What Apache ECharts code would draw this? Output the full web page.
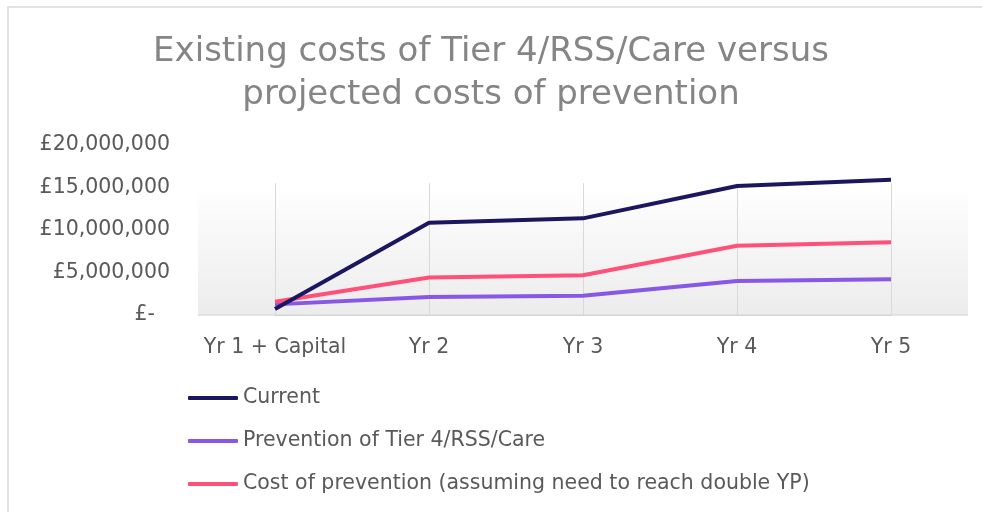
<!DOCTYPE html>
<html><head><meta charset="utf-8">
<script src="https://cdn.jsdelivr.net/npm/echarts@6/dist/echarts.min.js"></script>
<style>html,body{margin:0;padding:0;background:#fff;}#c{width:982px;height:512px;}</style>
</head><body><div id="c"></div>
<script>
const categories = ['Yr 1 + Capital', 'Yr 2', 'Yr 3', 'Yr 4', 'Yr 5'];
const current = [700000, 10860000, 11370000, 15180000, 15900000];
const prevention = [1250000, 2120000, 2270000, 4000000, 4200000];
const costOfPrevention = [1570000, 4400000, 4670000, 8150000, 8550000];
const seriesNames = ['Current', 'Prevention of Tier 4/RSS/Care', 'Cost of prevention (assuming need to reach double YP)'];
const yTicks = [0, 5000000, 10000000, 15000000, 20000000];
const wallTop = 15500000;

const colors = ['#1b1660', '#8857e6', '#ff5079'];
const FONT = '"DejaVu Sans"';
const FS = 20.5;
const chart = echarts.init(document.getElementById('c'), null, {renderer: 'canvas'});

function fmt(v) {
  if (v === 0) return '{z|£-}';
  return '£' + v.toLocaleString('en-GB');
}

const vLines = categories.map(c => [{xAxis: c, yAxis: 0}, {xAxis: c, yAxis: wallTop}]);

chart.setOption({
  animation: false,
  backgroundColor: '#fff',
  title: {
    text: 'Existing costs of Tier 4/RSS/Care versus\nprojected costs of prevention',
    left: 'center', top: 26,
    textStyle: {fontFamily: FONT, fontSize: 34, fontWeight: 'normal', color: '#858585', lineHeight: 43}
  },
  grid: {left: 275, right: 91, top: 145, bottom: 197, containLabel: false},
  xAxis: {
    type: 'category', data: categories, boundaryGap: false,
    axisLine: {lineStyle: {color: '#d4d4d4', width: 1}},
    axisTick: {show: false},
    axisLabel: {fontFamily: FONT, fontSize: FS, color: '#595959', margin: 22, interval: 0},
    splitLine: {show: false}
  },
  yAxis: {
    type: 'value', min: yTicks[0], max: yTicks[yTicks.length - 1], interval: yTicks[1] - yTicks[0],
    axisLine: {show: false}, axisTick: {show: false}, splitLine: {show: false},
    axisLabel: {
      fontFamily: FONT, fontSize: FS, color: '#595959', margin: 105, formatter: fmt,
      rich: {z: {fontFamily: FONT, fontSize: FS, color: '#595959', padding: [0, 15, 0, 0]}}
    }
  },
  legend: {
    orient: 'vertical', left: 183, top: 382,
    itemWidth: 50, itemHeight: 4, itemGap: 21, icon: 'roundRect',
    textStyle: {fontFamily: FONT, fontSize: FS, color: '#595959', lineHeight: 22},
    data: seriesNames
  },
  series: [
    {name: seriesNames[0], type: 'line', data: current, symbol: 'none', z: 5,
     lineStyle: {color: colors[0], width: 4}, itemStyle: {color: colors[0]},
     markLine: {silent: true, symbol: 'none', label: {show: false}, z: 1,
       lineStyle: {color: '#d9d9d9', width: 1, type: 'solid'}, data: vLines}},
    {name: seriesNames[1], type: 'line', data: prevention, symbol: 'none', z: 4,
     lineStyle: {color: colors[1], width: 4}, itemStyle: {color: colors[1]}},
    {name: seriesNames[2], type: 'line', data: costOfPrevention, symbol: 'none', z: 4,
     lineStyle: {color: colors[2], width: 4}, itemStyle: {color: colors[2]}}
  ]
});

// background wall and chart border (decorative), positioned from the axes
const x0 = chart.convertToPixel({xAxisIndex: 0}, categories[0]);
const x1 = chart.convertToPixel({xAxisIndex: 0}, categories[1]);
const xN = chart.convertToPixel({xAxisIndex: 0}, categories[categories.length - 1]);
const half = (x1 - x0) / 2;
const yTop = chart.convertToPixel({yAxisIndex: 0}, wallTop);
const yBot = chart.convertToPixel({yAxisIndex: 0}, 0);
chart.setOption({
  graphic: [
    {type: 'rect', z: -10, silent: true,
     shape: {x: 8, y: 7, width: 1200, height: 800},
     style: {fill: 'none', stroke: '#d9d9d9', lineWidth: 1.5}},
    {type: 'rect', z: -5, silent: true,
     shape: {x: x0 - half, y: yTop, width: (xN - x0) + 2 * half, height: yBot - yTop},
     style: {fill: new echarts.graphic.LinearGradient(0, 0, 0, 1, [
       {offset: 0, color: '#ffffff'}, {offset: 1, color: '#ececec'}])}},
    {type: 'line', z: -4, silent: true,
     shape: {x1: x0 - half, y1: yBot, x2: xN + half, y2: yBot},
     style: {stroke: '#dcdcdc', lineWidth: 1.5}}
  ]
});
</script></body></html>
